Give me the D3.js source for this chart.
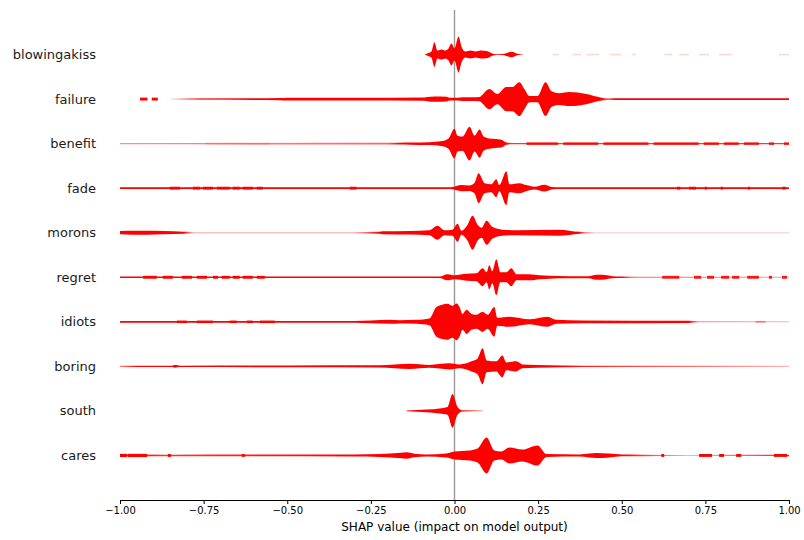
<!DOCTYPE html>
<html><head><meta charset="utf-8">
<script src="https://cdn.jsdelivr.net/npm/d3@7"></script>
<style>body{margin:0;background:#fff}svg{display:block}text{font-family:"DejaVu Sans",sans-serif}</style>
</head><body><svg id="c" width="804" height="540"></svg>
<script>
// Features, top to bottom
const features = ["eblowingakiss","failure","benefit","fade","morons","regret","idiots","boring","south","cares"];
const xTicks = [-1,-0.75,-0.5,-0.25,0,0.25,0.5,0.75,1];
const xLabel = "SHAP value (impact on model output)";

// Density profiles: [shap value, normalized density, opacity]
const densBlowingakiss = [[-0.090,0],[-0.081,0.06],[-0.069,0.17],[-0.060,0.69],[-0.051,0.22],[-0.039,0.28],[-0.027,0.22],[-0.018,0.33],[-0.009,0.61],[0,0.33],[0.012,1.0],[0.021,0.44],[0.033,0.17],[0.048,0.22],[0.063,0.17],[0.078,0.22],[0.099,0.19],[0.113,0.06],[0.125,0.02],[0.143,0.03],[0.170,0.15],[0.191,0.03],[0.209,0.0]];
const densFailure = [[-0.85,0.03,0.1],[-0.76,0.04,0.8],[-0.60,0.045,1],[-0.522,0.06],[-0.50,0.08],[-0.30,0.08],[-0.09,0.09],[-0.081,0.12],[-0.06,0.15],[-0.024,0.13],[-0.015,0.08],[0.01,0.08],[0.024,0.1],[0.05,0.1],[0.075,0.12],[0.081,0.2],[0.104,0.56],[0.128,0.28],[0.155,0.67],[0.173,0.67],[0.194,0.94],[0.209,0.56],[0.224,0.17],[0.248,0.17],[0.272,0.94],[0.290,0.44],[0.313,0.33],[0.343,0.39],[0.394,0.28],[0.439,0.08],[0.46,0.045,0.6],[0.48,0.045,1],[1.0,0.045]];
const densBenefit = [[-1.0,0.04,0.45],[-0.20,0.045,0.6],[-0.164,0.05,1],[-0.134,0.06],[-0.075,0.08],[-0.036,0.14],[-0.018,0.28],[0,0.83],[0.009,0.44],[0.024,0.39],[0.045,0.94],[0.060,0.44],[0.075,0.78],[0.087,0.39],[0.104,0.28],[0.140,0.22],[0.155,0.06],[0.17,0.04,0.8],[1.0,0.035,0.8]];
const densFade = [[-1,0.045],[-0.01,0.05],[0.006,0.12],[0.02,0.17],[0.045,0.15],[0.060,0.3],[0.072,0.83],[0.090,0.28],[0.110,0.22],[0.125,0.5],[0.134,0.17],[0.155,0.94],[0.164,0.22],[0.194,0.28],[0.215,0.17],[0.239,0.08],[0.269,0.19],[0.290,0.07],[0.32,0.045],[1.0,0.045]];
const densMorons = [[-1.0,0.09],[-0.96,0.11],[-0.92,0.11],[-0.87,0.09],[-0.81,0.05],[-0.78,0.04,0.25],[-0.30,0.04,0.25],[-0.224,0.05,1],[-0.215,0.08],[-0.134,0.1],[-0.075,0.14],[-0.051,0.39],[-0.030,0.14],[-0.006,0.17],[0.009,0.5],[0.021,0.11],[0.039,0.44],[0.054,0.94],[0.069,0.44],[0.081,0.28],[0.096,0.67],[0.113,0.33],[0.143,0.17],[0.185,0.14],[0.313,0.17],[0.373,0.05],[0.39,0.04,0.5],[0.42,0.04,0.15],[1.0,0.04,0.15]];
const densRegret = [[-1,0.04],[-0.045,0.04],[-0.021,0.17],[0,0.11],[0.036,0.19],[0.066,0.22],[0.084,0.5],[0.096,0.28],[0.104,0.67],[0.113,0.33],[0.125,1.0],[0.137,0.28],[0.155,0.28],[0.170,0.5],[0.185,0.17],[0.224,0.17],[0.254,0.11],[0.284,0.08],[0.343,0.06],[0.40,0.06],[0.424,0.14],[0.442,0.14],[0.472,0.06],[0.50,0.04],[0.55,0.03,0.6],[1.0,0.03,0.4]];
const densIdiots = [[-1,0.045],[-0.30,0.05],[-0.25,0.08],[-0.194,0.11],[-0.164,0.09],[-0.113,0.11],[-0.075,0.19],[-0.054,0.83],[-0.039,0.94],[-0.021,1.0],[-0.006,0.89],[0.006,1.02],[0.015,0.83],[0.024,0.44],[0.036,0.67],[0.051,0.44],[0.066,0.39],[0.084,0.56],[0.099,0.39],[0.119,0.83],[0.128,0.22],[0.164,0.28],[0.224,0.14],[0.278,0.28],[0.304,0.11],[0.382,0.08],[0.70,0.06],[0.73,0.03,0.5],[1.0,0.03,0.3]];
const densBoring = [[-1,0.04,0.5],[-0.95,0.04,1],[-0.845,0.04],[-0.836,0.08],[-0.82,0.04],[-0.5,0.05],[-0.224,0.06],[-0.134,0.14],[-0.075,0.08],[-0.015,0.17],[0.015,0.11],[0.051,0.28],[0.069,0.44],[0.084,1.0],[0.096,0.33],[0.125,0.28],[0.143,0.61],[0.155,0.22],[0.185,0.28],[0.203,0.11],[0.245,0.08],[0.322,0.05],[0.45,0.04,0.8],[1.0,0.035,0.3]];
const densSouth = [[-0.143,0.02],[-0.084,0.08],[-0.045,0.14],[-0.021,0.22],[-0.006,0.94],[0.009,0.22],[0.024,0.03],[0.084,0.02,0.5]];
const densCares = [[-1,0.05],[-0.86,0.045,0.8],[-0.30,0.06,1],[-0.224,0.08],[-0.160,0.15],[-0.143,0.18],[-0.12,0.1],[-0.084,0.06],[-0.024,0.11],[0,0.22],[0.045,0.28],[0.069,0.39],[0.096,1.0],[0.119,0.28],[0.140,0.22],[0.164,0.44],[0.203,0.33],[0.248,0.56],[0.275,0.08],[0.373,0.06],[0.403,0.11],[0.424,0.14],[0.463,0.11],[0.50,0.05],[0.56,0.04,0.8],[0.70,0.03,0.3],[1.0,0.04,0.9]];

// Sparse tail segments: [from, to, density, opacity]
const tailsBlowingakiss = [[0.293,0.313,0.05,0.15],[0.352,0.379,0.05,0.15],[0.394,0.433,0.05,0.15],[0.463,0.499,0.05,0.15],[0.531,0.543,0.05,0.15],[0.627,0.651,0.05,0.15],[0.672,0.701,0.05,0.15],[0.731,0.761,0.05,0.15],[0.791,0.830,0.05,0.15],[0.970,1.0,0.05,0.15]];
const tailsFailure = [[-0.940,-0.918,0.08,1],[-0.905,-0.887,0.08,1]];
const tailsBenefit = [[-0.746,-0.552,0.06,0.15],[0.215,0.31,0.07,0.9],[0.325,0.43,0.07,0.9],[0.445,0.58,0.07,0.9],[0.595,0.73,0.07,0.9],[0.745,0.79,0.07,0.9],[0.805,0.85,0.07,0.9],[0.865,0.91,0.07,0.9],[0.94,0.955,0.07,0.9],[0.985,1.0,0.07,0.9]];
const tailsFade = [[-0.851,-0.821,0.08,1],[-0.782,-0.761,0.08,1],[-0.752,-0.722,0.08,1],[-0.710,-0.672,0.08,1],[-0.663,-0.642,0.08,1],[-0.633,-0.603,0.08,1],[-0.591,-0.573,0.08,1],[-0.313,-0.293,0.08,1],[0.665,0.675,0.08,1],[0.701,0.722,0.08,1],[0.748,0.755,0.08,1],[0.796,0.803,0.08,1],[0.877,0.884,0.08,1],[0.980,0.99,0.08,1]];
const tailsMorons = [];
const tailsRegret = [[-0.931,-0.890,0.08,1],[-0.872,-0.842,0.08,1],[-0.815,-0.785,0.08,1],[-0.770,-0.740,0.08,1],[-0.722,-0.707,0.08,1],[-0.696,-0.672,0.08,1],[-0.663,-0.642,0.08,1],[-0.633,-0.603,0.08,1],[-0.591,-0.567,0.08,1],[0.621,0.672,0.08,0.9],[0.716,0.737,0.08,0.9],[0.755,0.776,0.08,0.9],[0.797,0.821,0.08,0.9],[0.830,0.851,0.08,0.9],[0.875,0.910,0.08,0.9],[0.940,0.949,0.08,0.9],[0.979,0.994,0.08,0.9]];
const tailsIdiots = [[-0.830,-0.800,0.07,1],[-0.770,-0.722,0.07,1],[-0.672,-0.651,0.07,1],[-0.621,-0.603,0.07,1],[-0.582,-0.537,0.07,1],[0.90,0.93,0.05,0.4]];
const tailsBoring = [];
const tailsSouth = [];
const tailsCares = [[-1,-0.979,0.09,1],[-0.976,-0.919,0.09,1],[-0.857,-0.848,0.08,1],[-0.636,-0.627,0.08,1],[0.618,0.627,0.08,1],[0.731,0.770,0.08,1],[0.791,0.806,0.08,1],[0.842,0.857,0.08,1],[0.955,0.994,0.08,1]];

const profiles = [densBlowingakiss,densFailure,densBenefit,densFade,densMorons,densRegret,densIdiots,densBoring,densSouth,densCares];
const tails = [tailsBlowingakiss,tailsFailure,tailsBenefit,tailsFade,tailsMorons,tailsRegret,tailsIdiots,tailsBoring,tailsSouth,tailsCares];

const svg = d3.select("#c");
const x = d3.scaleLinear().domain([-1,1]).range([120,789]);
const y = d3.scaleLinear().domain([-1,features.length]).range([500,10]);
const w = d3.scaleLinear().domain([0,1]).range([0,18]);
const red = "#ff0000";

const defs = svg.append("defs");
defs.append("clipPath").attr("id","labelclip").append("rect").attr("x",12.5).attr("y",0).attr("width",120).attr("height",540);

svg.append("line").attr("x1",x(0)).attr("x2",x(0)).attr("y1",y(features.length)).attr("y2",y(-1))
  .attr("stroke","#999999").attr("stroke-width",1.4);

const labels = svg.append("g").attr("clip-path","url(#labelclip)");
features.forEach((f,i)=>{
  const cy = y(features.length-1-i);
  const prof = profiles[i];
  const gid = "grad"+i;
  const grad = defs.append("linearGradient").attr("id",gid).attr("gradientUnits","userSpaceOnUse")
    .attr("x1",x(-1)).attr("x2",x(1)).attr("y1",0).attr("y2",0);
  let lastA = 1;
  prof.forEach(p=>{ if(p[2]!==undefined) lastA=p[2];
    grad.append("stop").attr("offset",(p[0]+1)/2).attr("stop-color",red).attr("stop-opacity",lastA); });
  const area = d3.area().x(p=>x(p[0])).y0(p=>cy-w(p[1])).y1(p=>cy+w(p[1])).curve(d3.curveMonotoneX);
  svg.append("path").attr("d",area(prof)).attr("fill",`url(#${gid})`);
  tails[i].forEach(t=>svg.append("rect").attr("x",x(t[0])).attr("width",x(t[1])-x(t[0]))
    .attr("y",cy-w(t[2])).attr("height",2*w(t[2])).attr("fill",red).attr("fill-opacity",t[3]));
  labels.append("text").attr("x",96).attr("y",cy).attr("dy","0.35em").attr("text-anchor","end")
    .attr("font-size",13).attr("fill","#1a1a1a").text(f);
});

const ax = svg.append("g").attr("transform",`translate(0,${y(-1)})`)
  .call(d3.axisBottom(x).tickValues(xTicks).tickFormat(d3.format(".2f")).tickSizeOuter(0).tickSize(4).tickPadding(3));
ax.attr("font-family","DejaVu Sans").attr("font-size",10);
ax.select(".domain").attr("stroke","#000").attr("stroke-width",1);
ax.selectAll(".tick line").attr("stroke","#000");
ax.selectAll(".tick text").attr("fill","#000");

svg.append("text").attr("x",x(0)).attr("y",531).attr("text-anchor","middle").attr("font-size",12)
  .attr("fill","#000").text(xLabel);
</script></body></html>
